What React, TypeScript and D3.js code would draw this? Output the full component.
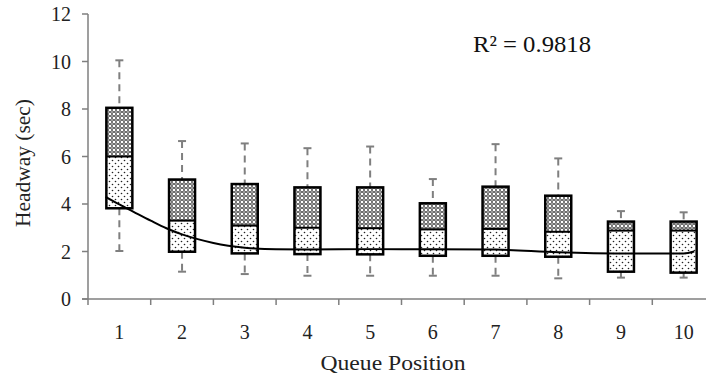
import React from 'react';
import * as d3 from 'd3';

// queue positions and box statistics (sec)
const positions = [1, 2, 3, 4, 5, 6, 7, 8, 9, 10];
const whiskerMax = [10.05, 6.65, 6.55, 6.35, 6.42, 5.05, 6.52, 5.92, 3.7, 3.65];
const q3 = [8.05, 5.03, 4.84, 4.7, 4.7, 4.03, 4.73, 4.35, 3.26, 3.26];
const median = [6.0, 3.3, 3.09, 3.0, 2.98, 2.93, 2.95, 2.83, 2.88, 2.88];
const q1 = [3.82, 1.99, 1.92, 1.89, 1.88, 1.82, 1.82, 1.78, 1.15, 1.11];
const whiskerMin = [2.02, 1.15, 1.05, 0.98, 0.98, 0.98, 0.98, 0.87, 0.9, 0.9];

// fitted curve
const fitX = [0.78, 1, 1.22, 1.5, 1.75, 2, 2.25, 2.5, 3, 3.5, 4, 5, 6, 7, 8, 9, 10, 10.17];
const fitY = [4.3, 3.98, 3.68, 3.3, 2.98, 2.72, 2.52, 2.36, 2.16, 2.09, 2.08, 2.1, 2.1, 2.08, 1.97, 1.92, 1.92, 2.0];

const yTicks = [0, 2, 4, 6, 8, 10, 12];
const r2Label = 'R² = 0.9818';
const xTitle = 'Queue Position';
const yTitle = 'Headway (sec)';

const W = 706;
const H = 380;
const FONT = '"Liberation Serif", "Times New Roman", serif';

export default function App() {
  const x = d3.scaleBand<number>().domain(positions).range([88, 715]);
  const xLin = d3.scaleLinear().domain([0.5, 10.5]).range([88, 715]);
  const y = d3.scaleLinear().domain([0, 12]).range([299, 14]);
  const boxW = 26;
  const capW = 8;
  const grey = '#7f7f7f';

  const fitLine = d3
    .line<number>()
    .x((d, i) => xLin(fitX[i]))
    .y(d => y(d))
    .curve(d3.curveMonotoneX)(fitY);

  const bounds = d3.range(0, positions.length + 1).map(i => 88 + i * x.bandwidth());

  return (
    <svg width={W} height={H} style={{position: 'absolute', left: 0, top: 0, background: '#fff'}} fontFamily={FONT}>
      <defs>
        <pattern id="upperPat" width="4" height="4" patternUnits="userSpaceOnUse">
          <rect width="4" height="4" fill="#5a5a5a" />
          <circle cx="2" cy="2" r="1.35" fill="#fff" />
          <circle cx="0" cy="0" r="0.75" fill="#fff" />
          <circle cx="4" cy="0" r="0.75" fill="#fff" />
          <circle cx="0" cy="4" r="0.75" fill="#fff" />
          <circle cx="4" cy="4" r="0.75" fill="#fff" />
        </pattern>
        <pattern id="lowerPat" width="6" height="6" patternUnits="userSpaceOnUse">
          <rect width="6" height="6" fill="#fff" />
          <circle cx="1.5" cy="1.5" r="0.8" fill="#222" />
          <circle cx="4.5" cy="4.5" r="0.8" fill="#222" />
        </pattern>
      </defs>

      {/* axes */}
      <line x1={88} x2={88} y1={14} y2={299} stroke={grey} strokeWidth={1.5} />
      <line x1={82} x2={715} y1={299} y2={299} stroke={grey} strokeWidth={1.5} />
      {yTicks.map(t => (
        <g key={t}>
          <line x1={82} x2={88} y1={y(t)} y2={y(t)} stroke={grey} strokeWidth={1.5} />
          <text x={71} y={y(t)} dy="0.35em" textAnchor="end" fontSize={20} fill="#222">
            {t}
          </text>
        </g>
      ))}
      {bounds.map((b, i) => (
        <line key={i} x1={b} x2={b} y1={299} y2={305} stroke={grey} strokeWidth={1.5} />
      ))}
      {positions.map(p => (
        <text key={p} x={(x(p) ?? 0) + x.bandwidth() / 2} y={339} textAnchor="middle" fontSize={20} fill="#222">
          {p}
        </text>
      ))}

      {/* boxes */}
      {positions.map((p, i) => {
        const cx = (x(p) ?? 0) + x.bandwidth() / 2;
        const left = cx - boxW / 2;
        return (
          <g key={p}>
            <line x1={cx} x2={cx} y1={y(whiskerMax[i])} y2={y(q3[i])} stroke={grey} strokeWidth={2} strokeDasharray="7,5" />
            <line x1={cx} x2={cx} y1={y(q1[i])} y2={y(whiskerMin[i])} stroke={grey} strokeWidth={2} strokeDasharray="7,5" />
            <line x1={cx - capW / 2} x2={cx + capW / 2} y1={y(whiskerMax[i])} y2={y(whiskerMax[i])} stroke={grey} strokeWidth={2} />
            <line x1={cx - capW / 2} x2={cx + capW / 2} y1={y(whiskerMin[i])} y2={y(whiskerMin[i])} stroke={grey} strokeWidth={2} />
            <rect x={left} y={y(q3[i])} width={boxW} height={y(median[i]) - y(q3[i])} fill="url(#upperPat)" />
            <rect x={left} y={y(median[i])} width={boxW} height={y(q1[i]) - y(median[i])} fill="url(#lowerPat)" />
            <rect x={left} y={y(q3[i])} width={boxW} height={y(q1[i]) - y(q3[i])} fill="none" stroke="#000" strokeWidth={2.5} />
            <line x1={left} x2={left + boxW} y1={y(median[i])} y2={y(median[i])} stroke="#000" strokeWidth={2} />
          </g>
        );
      })}

      {/* fitted curve */}
      <path d={fitLine ?? ''} fill="none" stroke="#000" strokeWidth={2} />

      <text x={473} y={52} fontSize={23} fill="#111" textLength={118} lengthAdjust="spacingAndGlyphs">
        {r2Label}
      </text>
      <text x={393} y={370} textAnchor="middle" fontSize={21} fill="#222" textLength={145} lengthAdjust="spacingAndGlyphs">
        {xTitle}
      </text>
      <text transform={`translate(30, 163) rotate(-90)`} textAnchor="middle" fontSize={21} fill="#222" textLength={128} lengthAdjust="spacingAndGlyphs">
        {yTitle}
      </text>
    </svg>
  );
}
